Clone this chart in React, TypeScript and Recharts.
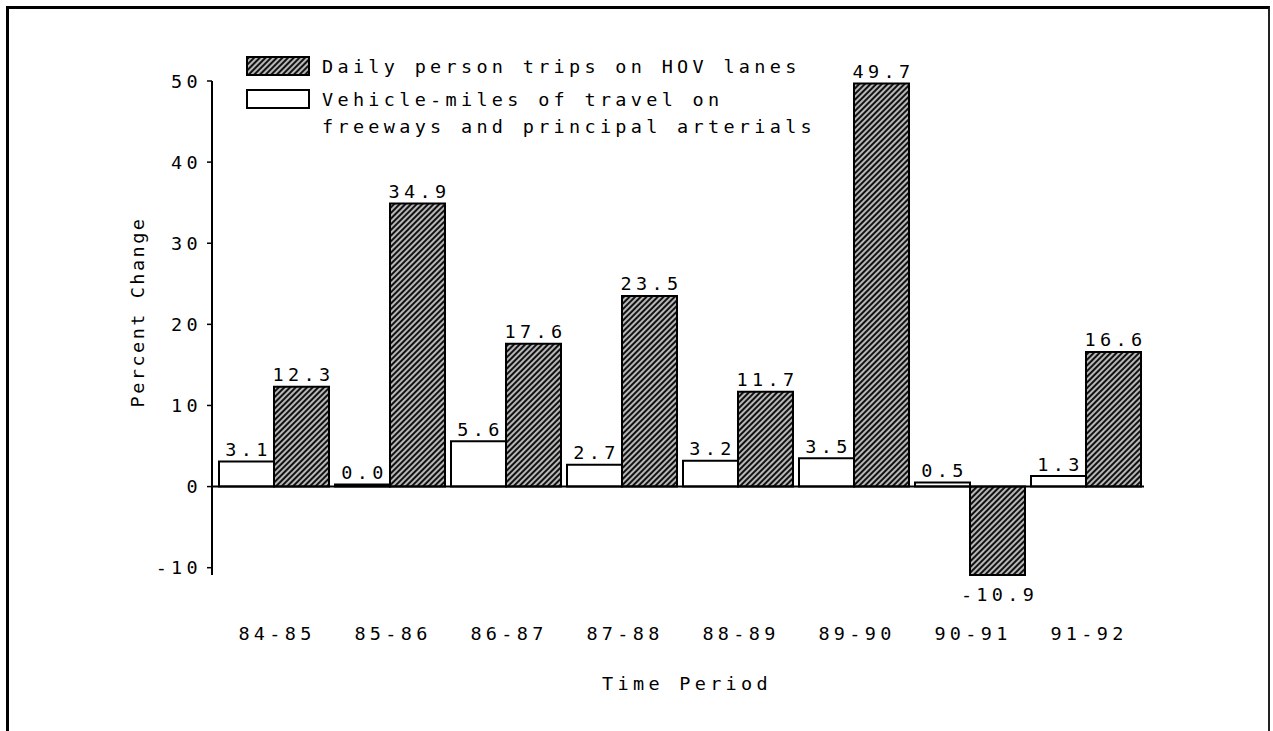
import React from 'react';
import { BarChart, Bar, XAxis, YAxis, ReferenceLine, LabelList, Legend } from 'recharts';

const periods = ['84-85', '85-86', '86-87', '87-88', '88-89', '89-90', '90-91', '91-92'];
const vmtChange = [3.1, 0.0, 5.6, 2.7, 3.2, 3.5, 0.5, 1.3];
const hovTripsChange = [12.3, 34.9, 17.6, 23.5, 11.7, 49.7, -10.9, 16.6];
const yTicks = [-10, 0, 10, 20, 30, 40, 50];

const MONO = "'DejaVu Sans Mono', 'Liberation Mono', monospace";

const data = periods.map((period, i) => ({
  period,
  vmt: vmtChange[i],
  hov: hovTripsChange[i],
}));

const textStyle = {
  fontFamily: MONO,
  fontSize: 18.5,
  letterSpacing: 4.3,
  fill: '#000',
};

const HatchSwatch = ({ id }: { id: string }) => (
  <svg width={64} height={20} style={{ display: 'block', marginTop: 3.5 }}>
    <defs>
      <pattern id={id} width={4} height={4} patternUnits="userSpaceOnUse" patternTransform="rotate(45)">
        <rect width={4} height={4} fill="#111" />
        <line x1={1} y1={0} x2={1} y2={4} stroke="#fff" strokeWidth={1.4} />
      </pattern>
    </defs>
    <rect x={1} y={1} width={62} height={18} fill={`url(#${id})`} stroke="#000" strokeWidth={2} />
  </svg>
);

const PlainSwatch = () => (
  <svg width={64} height={20} style={{ display: 'block', marginTop: 3.5 }}>
    <rect x={1} y={1} width={62} height={18} fill="#fff" stroke="#000" strokeWidth={2} />
  </svg>
);

const LegendBox = () => (
  <div style={{ fontFamily: MONO, fontSize: 18.5, letterSpacing: 4.3, lineHeight: '27px', color: '#000', whiteSpace: 'nowrap' }}>
    <div style={{ display: 'flex', alignItems: 'flex-start', height: 33 }}>
      <HatchSwatch id="hatch-legend" />
      <span style={{ marginLeft: 12 }}>Daily person trips on HOV lanes</span>
    </div>
    <div style={{ display: 'flex', alignItems: 'flex-start' }}>
      <PlainSwatch />
      <span style={{ marginLeft: 12 }}>
        Vehicle-miles of travel on
        <br />
        freeways and principal arterials
      </span>
    </div>
  </div>
);

const CategoryTick = (props: any) => {
  const { x, y, payload } = props;
  return (
    <text x={x + 3} y={y + 50} textAnchor="middle" dominantBaseline="central" style={textStyle}>
      {payload.value}
    </text>
  );
};

const ValueLabel = (props: any) => {
  const { x, y, width, height, value } = props;
  const top = Math.min(y, y + height);
  const bottom = Math.max(y, y + height);
  const cy = value < 0 ? bottom + 19 : top - 12;
  return (
    <text x={x + width / 2 + 2} y={cy} textAnchor="middle" dominantBaseline="central" style={textStyle}>
      {Number(value).toFixed(1)}
    </text>
  );
};

const XTitle = (props: any) => {
  const vb = props.viewBox;
  return (
    <text x={vb.x + vb.width / 2 + 9} y={vb.y + 108} textAnchor="middle" dominantBaseline="central" style={textStyle}>
      Time Period
    </text>
  );
};

const YTitle = (props: any) => {
  const vb = props.viewBox;
  const cx = 137;
  const cy = vb.y + vb.height / 2 - 16;
  return (
    <text
      x={cx}
      y={cy}
      textAnchor="middle"
      dominantBaseline="central"
      transform={`rotate(-90, ${cx}, ${cy})`}
      style={{ ...textStyle, letterSpacing: 2.5 }}
    >
      Percent Change
    </text>
  );
};

const App = () => {
  return (
    <div style={{ position: 'absolute', left: 0, top: 0, width: 1273, height: 731, overflow: 'hidden', background: '#fff' }}>
      {/* scanned frame: left, top and right edges only */}
      <div
        style={{
          position: 'absolute',
          left: 6,
          top: 6,
          width: 1264,
          height: 725,
          boxSizing: 'border-box',
          borderLeft: '3px solid #000',
          borderTop: '3px solid #000',
          borderRight: '2px solid #222',
        }}
      />
      <div style={{ position: 'absolute', left: 0, top: 0 }}>
        <BarChart
          width={1273}
          height={731}
          data={data}
          margin={{ top: 81, right: 129, bottom: 96, left: 0 }}
          barCategoryGap={3}
          barGap={0}
        >
          <defs>
            <pattern id="hatch" width={4} height={4} patternUnits="userSpaceOnUse" patternTransform="rotate(45)">
              <rect width={4} height={4} fill="#111" />
              <line x1={1} y1={0} x2={1} y2={4} stroke="#fff" strokeWidth={1.4} />
            </pattern>
          </defs>
          <XAxis
            dataKey="period"
            height={60}
            padding={{ left: 4, right: 0 }}
            axisLine={false}
            tickLine={false}
            tick={<CategoryTick />}
            interval={0}
            label={{ content: <XTitle /> }}
          />
          <YAxis
            width={212}
            domain={[-10, 50]}
            ticks={yTicks}
            interval={0}
            axisLine={{ stroke: '#000', strokeWidth: 2 }}
            tickLine={{ stroke: '#000', strokeWidth: 1.5 }}
            tickSize={5}
            tickMargin={5}
            tick={{ ...textStyle }}
            label={{ content: <YTitle /> }}
          />
          <Legend
            layout="vertical"
            align="center"
            verticalAlign="middle"
            content={() => <LegendBox />}
            wrapperStyle={{ top: 52.5, left: 246, width: 'auto' }}
          />
          <Bar
            dataKey="vmt"
            name="Vehicle-miles of travel on freeways and principal arterials"
            fill="#fff"
            stroke="#000"
            strokeWidth={2}
            minPointSize={2}
            isAnimationActive={false}
          >
            <LabelList dataKey="vmt" content={<ValueLabel />} />
          </Bar>
          <Bar dataKey="hov" name="Daily person trips on HOV lanes" fill="url(#hatch)" stroke="#000" strokeWidth={2} isAnimationActive={false}>
            <LabelList dataKey="hov" content={<ValueLabel />} />
          </Bar>
          <ReferenceLine y={0} stroke="#000" strokeWidth={2} />
        </BarChart>
      </div>
    </div>
  );
};

export default App;
